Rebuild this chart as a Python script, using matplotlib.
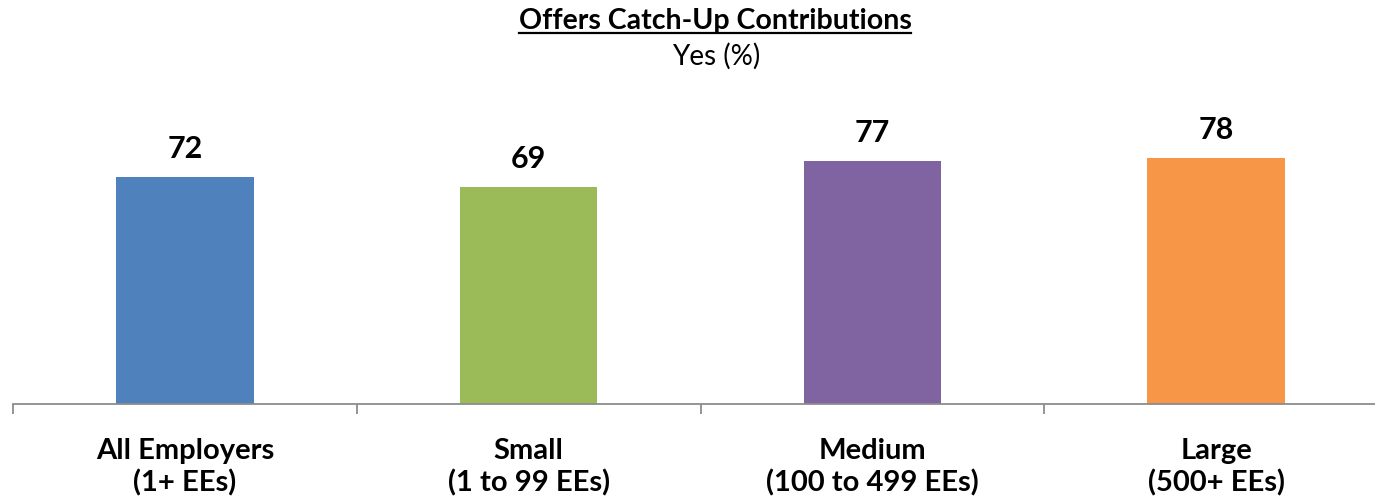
import matplotlib
matplotlib.use("Agg")
import matplotlib.pyplot as plt
from matplotlib.lines import Line2D

# Data
categories = ["All Employers\n(1+ EEs)", "Small\n(1 to 99 EEs)",
              "Medium\n(100 to 499 EEs)", "Large\n(500+ EEs)"]
values = [72, 69, 77, 78]
colors = ["#4F81BD", "#9BBB59", "#8064A2", "#F79646"]
title = "Offers Catch-Up Contributions"
subtitle = "Yes (%)"

FONT = "Lato"
plt.rcParams["font.family"] = [FONT, "DejaVu Sans"]

W, H = 1375, 502
fig = plt.figure(figsize=(W / 100, H / 100), dpi=100)

# Plot area in pixel terms: x from 13 to 1388, baseline y=405, top y=90
left, right = 13, 1388
bottom, top = 405, 90
ax = fig.add_axes([left / W, (H - bottom) / H, (right - left) / W, (bottom - top) / H])

x = list(range(len(values)))
ax.bar(x, values, width=0.40, color=colors, zorder=2)
ax.set_xlim(-0.5, len(values) - 0.5)
ax.set_ylim(0, 100)

for xi, v in zip(x, values):
    ax.annotate(f"{v}", (xi, v), xytext=(0, 14.4), textcoords="offset points",
                ha="center", va="baseline", fontsize=22, fontweight="bold",
                color="black")

for s in ["top", "left", "right"]:
    ax.spines[s].set_visible(False)
ax.spines["bottom"].set_color("#8C8C8C")
ax.spines["bottom"].set_linewidth(1.3)
ax.set_yticks([])
ax.set_xticks(x)
ax.set_xticklabels(categories, fontsize=21, fontweight="bold", linespacing=1.22)
ax.tick_params(axis="x", which="major", length=0, pad=24)
ax.set_xticks([i - 0.5 for i in range(len(values) + 1)], minor=True)
ax.tick_params(axis="x", which="minor", length=7.5, width=1.3, color="#8C8C8C",
               direction="out")

# Title and subtitle
t = fig.text(715 / W, 1 - 29.5 / H, title, ha="center", va="baseline",
             fontsize=20.5, fontweight="bold")
fig.text(716 / W, 1 - 65 / H, subtitle, ha="center", va="baseline", fontsize=20)

# Underline for the title
fig.canvas.draw()
bb = t.get_window_extent()
uy = H - 34
fig.add_artist(Line2D([bb.x0 / W, bb.x1 / W], [uy / H, uy / H],
                      transform=fig.transFigure, color="black", linewidth=1.6))

fig.savefig("out.png", dpi=100, facecolor="white")
